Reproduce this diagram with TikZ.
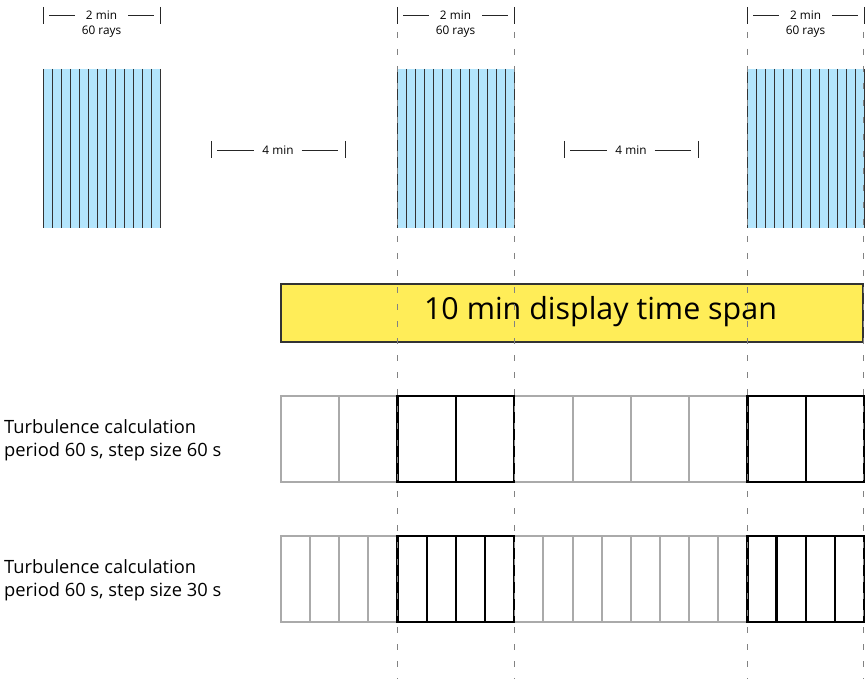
\documentclass[tikz,border=0pt]{standalone}
\usepackage{fontspec}
\setmainfont{Open Sans}
\usetikzlibrary{positioning}
\definecolor{raysblue}{RGB}{179,229,252}
\definecolor{spanyellow}{RGB}{255,237,88}
\definecolor{framegray}{RGB}{170,170,170}
\definecolor{guidegray}{RGB}{130,130,130}
\begin{document}
\begin{tikzpicture}[x=1pt,y=-1pt,line join=miter]
	\tikzset{
		rayline/.style={line width=0.8pt,black!80},
		dim/.style={line width=0.8pt,black!85},
		dimlabel/.style={font=\fontsize{11.8}{12}\selectfont,inner ysep=0pt,inner xsep=11pt},
		grayframe/.style={draw=framegray,line width=2pt},
		blackframe/.style={draw=black,line width=2.4pt},
		guide/.style={guidegray,line width=0.9pt,dash pattern=on 6pt off 11pt},
		rowlabel/.style={font=\fontsize{18.3}{23}\selectfont,align=left,anchor=west,inner sep=0pt}
	}
	\useasboundingbox (0,0) rectangle (865,679);
	% ray blocks, 2 min each
	\foreach \bx/\nm in {43/a,397/b,747/c}{
		\fill[raysblue] (\bx,69) rectangle ++(117,159);
		\foreach \i in {0,...,13}
		\draw[rayline] (\bx+\i*9,69) -- ++(0,159);
		\node[dimlabel] (dur\nm) at (\bx+58.5,15.5) {2 min};
		\node[dimlabel,inner xsep=0pt] (rays\nm) at (\bx+58.5,31.5) {60 rays};
		\draw[dim] (\bx,7) -- (\bx,24);
		\draw[dim] (\bx+117,7) -- (\bx+117,24);
		\draw[dim] (\bx+6,15.5) -- (dur\nm.west);
		\draw[dim] (dur\nm.east) -- (\bx+111,15.5);
	}
	% gaps, 4 min each
	\foreach \gx/\nm in {211/a,564/b}{
		\node[dimlabel,inner xsep=8pt] (gap\nm) at (\gx+67,150) {4 min};
		\draw[dim] (\gx,141) -- (\gx,158);
		\draw[dim] (\gx+134,141) -- (\gx+134,158);
		\draw[dim] (\gx+6,150) -- (gap\nm.west);
		\draw[dim] (gap\nm.east) -- (\gx+127,150);
	}
	% display span
	\draw[fill=spanyellow,draw=black!80,line width=1.2pt] (281,284) rectangle (863,342);
	\node[font=\fontsize{30.4}{34}\selectfont,inner sep=0pt] (span) at (600.5,311.5) {10 min display time span};
	% calculation rows
	\node[rowlabel] (calcA) at (4,440) {Turbulence calculation\\period 60 s, step size 60 s};
	\node[rowlabel] (calcB) at (4,580) {Turbulence calculation\\period 60 s, step size 30 s};
	\foreach \i in {0,...,9}
	\draw[grayframe] (281+\i*58.3,396) rectangle ++(58.3,86);
	\foreach \i in {2,3,8,9}
	\draw[blackframe] (281+\i*58.3,396) rectangle ++(58.3,86);
	\foreach \i in {0,...,19}
	\draw[grayframe] (281+\i*29.15,536) rectangle ++(29.15,86);
	\foreach \i in {4,...,7,16,17,18,19}
	\draw[blackframe] (281+\i*29.15,536) rectangle ++(29.15,86);
	% guides
	\foreach \gx in {397,514,747,863.5}
	\draw[guide] (\gx,32) -- (\gx,679);
\end{tikzpicture}
\end{document}
